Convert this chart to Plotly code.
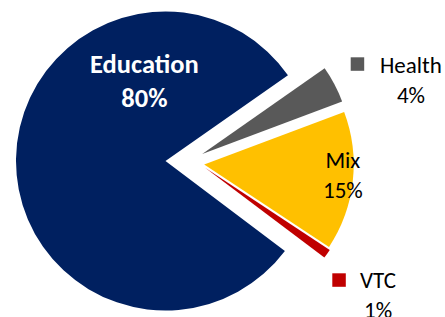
import plotly.graph_objects as go

# ---- data ----
categories = ["Education", "Health", "Mix", "VTC"]
shares = [80, 4, 15, 1]
colors = ["#002060", "#595959", "#FFC000", "#C00000"]

# ---- layout / style parameters ----
W, H = 445, 317
R = 149.5                 # pie radius in px
CX, CY = 165.5, 161.0     # centre of the (non-exploded) pie, px from top-left
ROTATION = 127
# explosion offset of each slice (px, screen coords)
explode_px = {"Education": (0, 0), "Health": (36.7, -7.0), "Mix": (38.7, 3.6), "VTC": (39.6, 6.9)}
FONT = "Carlito, Calibri, Lato, sans-serif"

fig = go.Figure()
for i, cat in enumerate(categories):
    dx, dy = explode_px[cat]
    cx, cy = CX + dx, CY + dy
    yb = H - cy
    x0, x1 = max(0, (cx - R) / W), min(1, (cx + R) / W)
    y0, y1 = max(0, (yb - R) / H), min(1, (yb + R) / H)
    slice_colors = [c if j == i else "rgba(0,0,0,0)" for j, c in enumerate(colors)]
    fig.add_trace(go.Pie(
        labels=categories, values=shares, sort=False, direction="clockwise",
        rotation=ROTATION, marker=dict(colors=slice_colors, line=dict(width=0)),
        textinfo="none", hoverinfo="label+percent", showlegend=False,
        domain=dict(x=[x0, x1], y=[y0, y1]),
    ))

# label placement (px from top-left) and styles
label_pos = {"Education": (144, 81), "Health": (411, 80), "Mix": (343, 175), "VTC": (377.5, 295)}
label_style = {
    "Education": dict(color="white", size=26.5, bold=True),
    "Health": dict(color="black", size=23, bold=False),
    "Mix": dict(color="black", size=23, bold=False),
    "VTC": dict(color="black", size=23, bold=False),
}
key_pos = {"Health": (350.7, 57.3), "VTC": (332.3, 273.3)}
KEY = 13.5

annotations = []
for cat, s in zip(categories, shares):
    px, py = label_pos[cat]
    st = label_style[cat]
    txt = f"{cat}<br>{s}%"
    if st["bold"]:
        txt = f"<b>{txt}</b>"
    annotations.append(dict(
        x=px / W, y=1 - py / H, xref="paper", yref="paper", text=txt, showarrow=False,
        xanchor="center", yanchor="middle", align="center",
        font=dict(family=FONT, size=st["size"], color=st["color"]),
    ))

shapes = []
for cat, (kx, ky) in key_pos.items():
    c = colors[categories.index(cat)]
    shapes.append(dict(type="rect", xref="paper", yref="paper",
                       x0=kx / W, x1=(kx + KEY) / W, y0=1 - (ky + KEY) / H, y1=1 - ky / H,
                       fillcolor=c, line=dict(width=0)))

fig.update_layout(
    width=W, height=H, margin=dict(l=0, r=0, t=0, b=0),
    paper_bgcolor="white", plot_bgcolor="white",
    annotations=annotations, shapes=shapes,
)
fig.write_html("out.html", config={"displayModeBar": False})

# remove the browser's default page margin so the figure sits at the window's top-left
with open("out.html", encoding="utf-8") as f:
    html = f.read()
html = html.replace("<head>", "<head><style>html,body{margin:0;padding:0;overflow:hidden;}</style>", 1)
with open("out.html", "w", encoding="utf-8") as f:
    f.write(html)
